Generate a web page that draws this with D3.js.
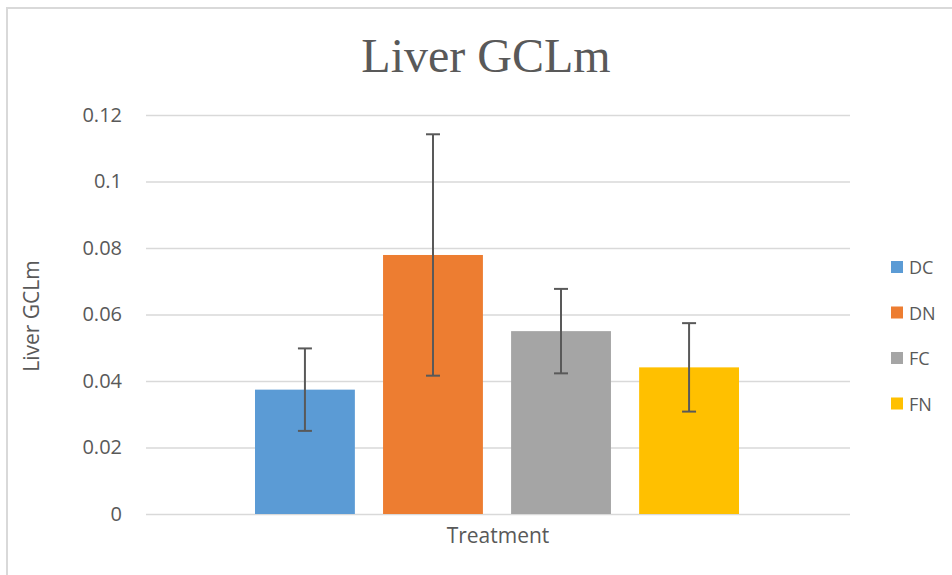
<!DOCTYPE html>
<html>
<head>
<meta charset="utf-8">
<script src="https://cdn.jsdelivr.net/npm/d3@7"></script>
<style>
  body { margin: 0; background: #fff; }
  text { font-family: "Open Sans", sans-serif; fill: #595959; }
</style>
</head>
<body>
<div id="main"></div>
<script>
// data
const categories = ['DC', 'DN', 'FC', 'FN'];
const values = [0.0374, 0.0779, 0.0550, 0.0441];
const errors = [0.0124, 0.0363, 0.0127, 0.0133];
const colors = ['#5B9BD5', '#ED7D31', '#A5A5A5', '#FFC000'];
const yTicks = [0, 0.02, 0.04, 0.06, 0.08, 0.1, 0.12];
const tickLabels = ['0', '0.02', '0.04', '0.06', '0.08', '0.1', '0.12'];

const W = 952, H = 575;
const plot = { left: 146, right: 850, top: 115, bottom: 514 };

const svg = d3.select('#main').append('svg')
  .attr('width', W)
  .attr('height', H);

// chart border
svg.append('path')
  .attr('d', `M7,${H} L7,8 L${W},8`)
  .attr('fill', 'none')
  .attr('stroke', '#d9d9d9')
  .attr('stroke-width', 2);

const yScale = d3.scaleLinear()
  .domain([0, 0.12])
  .range([plot.bottom, plot.top]);

// one category ("Treatment") holding four series
const xScale = d3.scaleBand()
  .domain(categories)
  .range([255, 739])
  .paddingInner(0.22);

// gridlines
svg.append('g')
  .attr('transform', `translate(${plot.left},0)`)
  .call(d3.axisLeft(yScale).tickValues(yTicks).tickSize(-(plot.right - plot.left)).tickFormat(''))
  .call(g => g.select('.domain').remove())
  .call(g => g.selectAll('line').attr('stroke', '#d9d9d9').attr('stroke-width', 1.5));

// tick labels
svg.append('g')
  .attr('transform', `translate(${plot.left},0)`)
  .call(d3.axisLeft(yScale).tickValues(yTicks).tickSize(0).tickPadding(24)
    .tickFormat((d, i) => tickLabels[i]))
  .call(g => g.select('.domain').remove())
  .call(g => g.selectAll('text')
    .attr('font-family', '"Open Sans", sans-serif')
    .attr('font-size', 20)
    .attr('fill', '#595959'));

// bars
svg.append('g').selectAll('rect')
  .data(categories)
  .enter()
  .append('rect')
  .attr('x', d => xScale(d))
  .attr('y', (d, i) => yScale(values[i]))
  .attr('width', xScale.bandwidth())
  .attr('height', (d, i) => yScale(0) - yScale(values[i]))
  .attr('fill', (d, i) => colors[i]);

// error bars
const errG = svg.append('g')
  .attr('stroke', '#595959')
  .attr('stroke-width', 2);

categories.forEach((c, i) => {
  const cx = xScale(c) + xScale.bandwidth() / 2;
  const y1 = yScale(values[i] + errors[i]);
  const y2 = yScale(values[i] - errors[i]);
  errG.append('line').attr('x1', cx).attr('x2', cx).attr('y1', y1).attr('y2', y2);
  errG.append('line').attr('x1', cx - 7).attr('x2', cx + 7).attr('y1', y1).attr('y2', y1);
  errG.append('line').attr('x1', cx - 7).attr('x2', cx + 7).attr('y1', y2).attr('y2', y2);
});

// title
svg.append('text')
  .attr('x', 486)
  .attr('y', 72)
  .attr('text-anchor', 'middle')
  .style('font-family', '"Liberation Serif", "Times New Roman", serif')
  .attr('font-size', 48)
  .text('Liver GCLm');

// axis titles
svg.append('text')
  .attr('x', (plot.left + plot.right) / 2)
  .attr('y', 543)
  .attr('text-anchor', 'middle')
  .attr('font-size', 21)
  .text('Treatment');

svg.append('text')
  .attr('transform', `translate(39,316) rotate(-90)`)
  .attr('text-anchor', 'middle')
  .attr('font-size', 21)
  .text('Liver GCLm');

// legend
const legend = svg.append('g').selectAll('g')
  .data(categories)
  .enter()
  .append('g')
  .attr('transform', (d, i) => `translate(891,${267 + i * 45.5})`);

legend.append('rect')
  .attr('x', 0)
  .attr('y', -6)
  .attr('width', 12)
  .attr('height', 12)
  .attr('fill', (d, i) => colors[i]);

legend.append('text')
  .attr('x', 18)
  .attr('y', 7)
  .attr('font-size', 18)
  .text(d => d);
</script>
</body>
</html>
